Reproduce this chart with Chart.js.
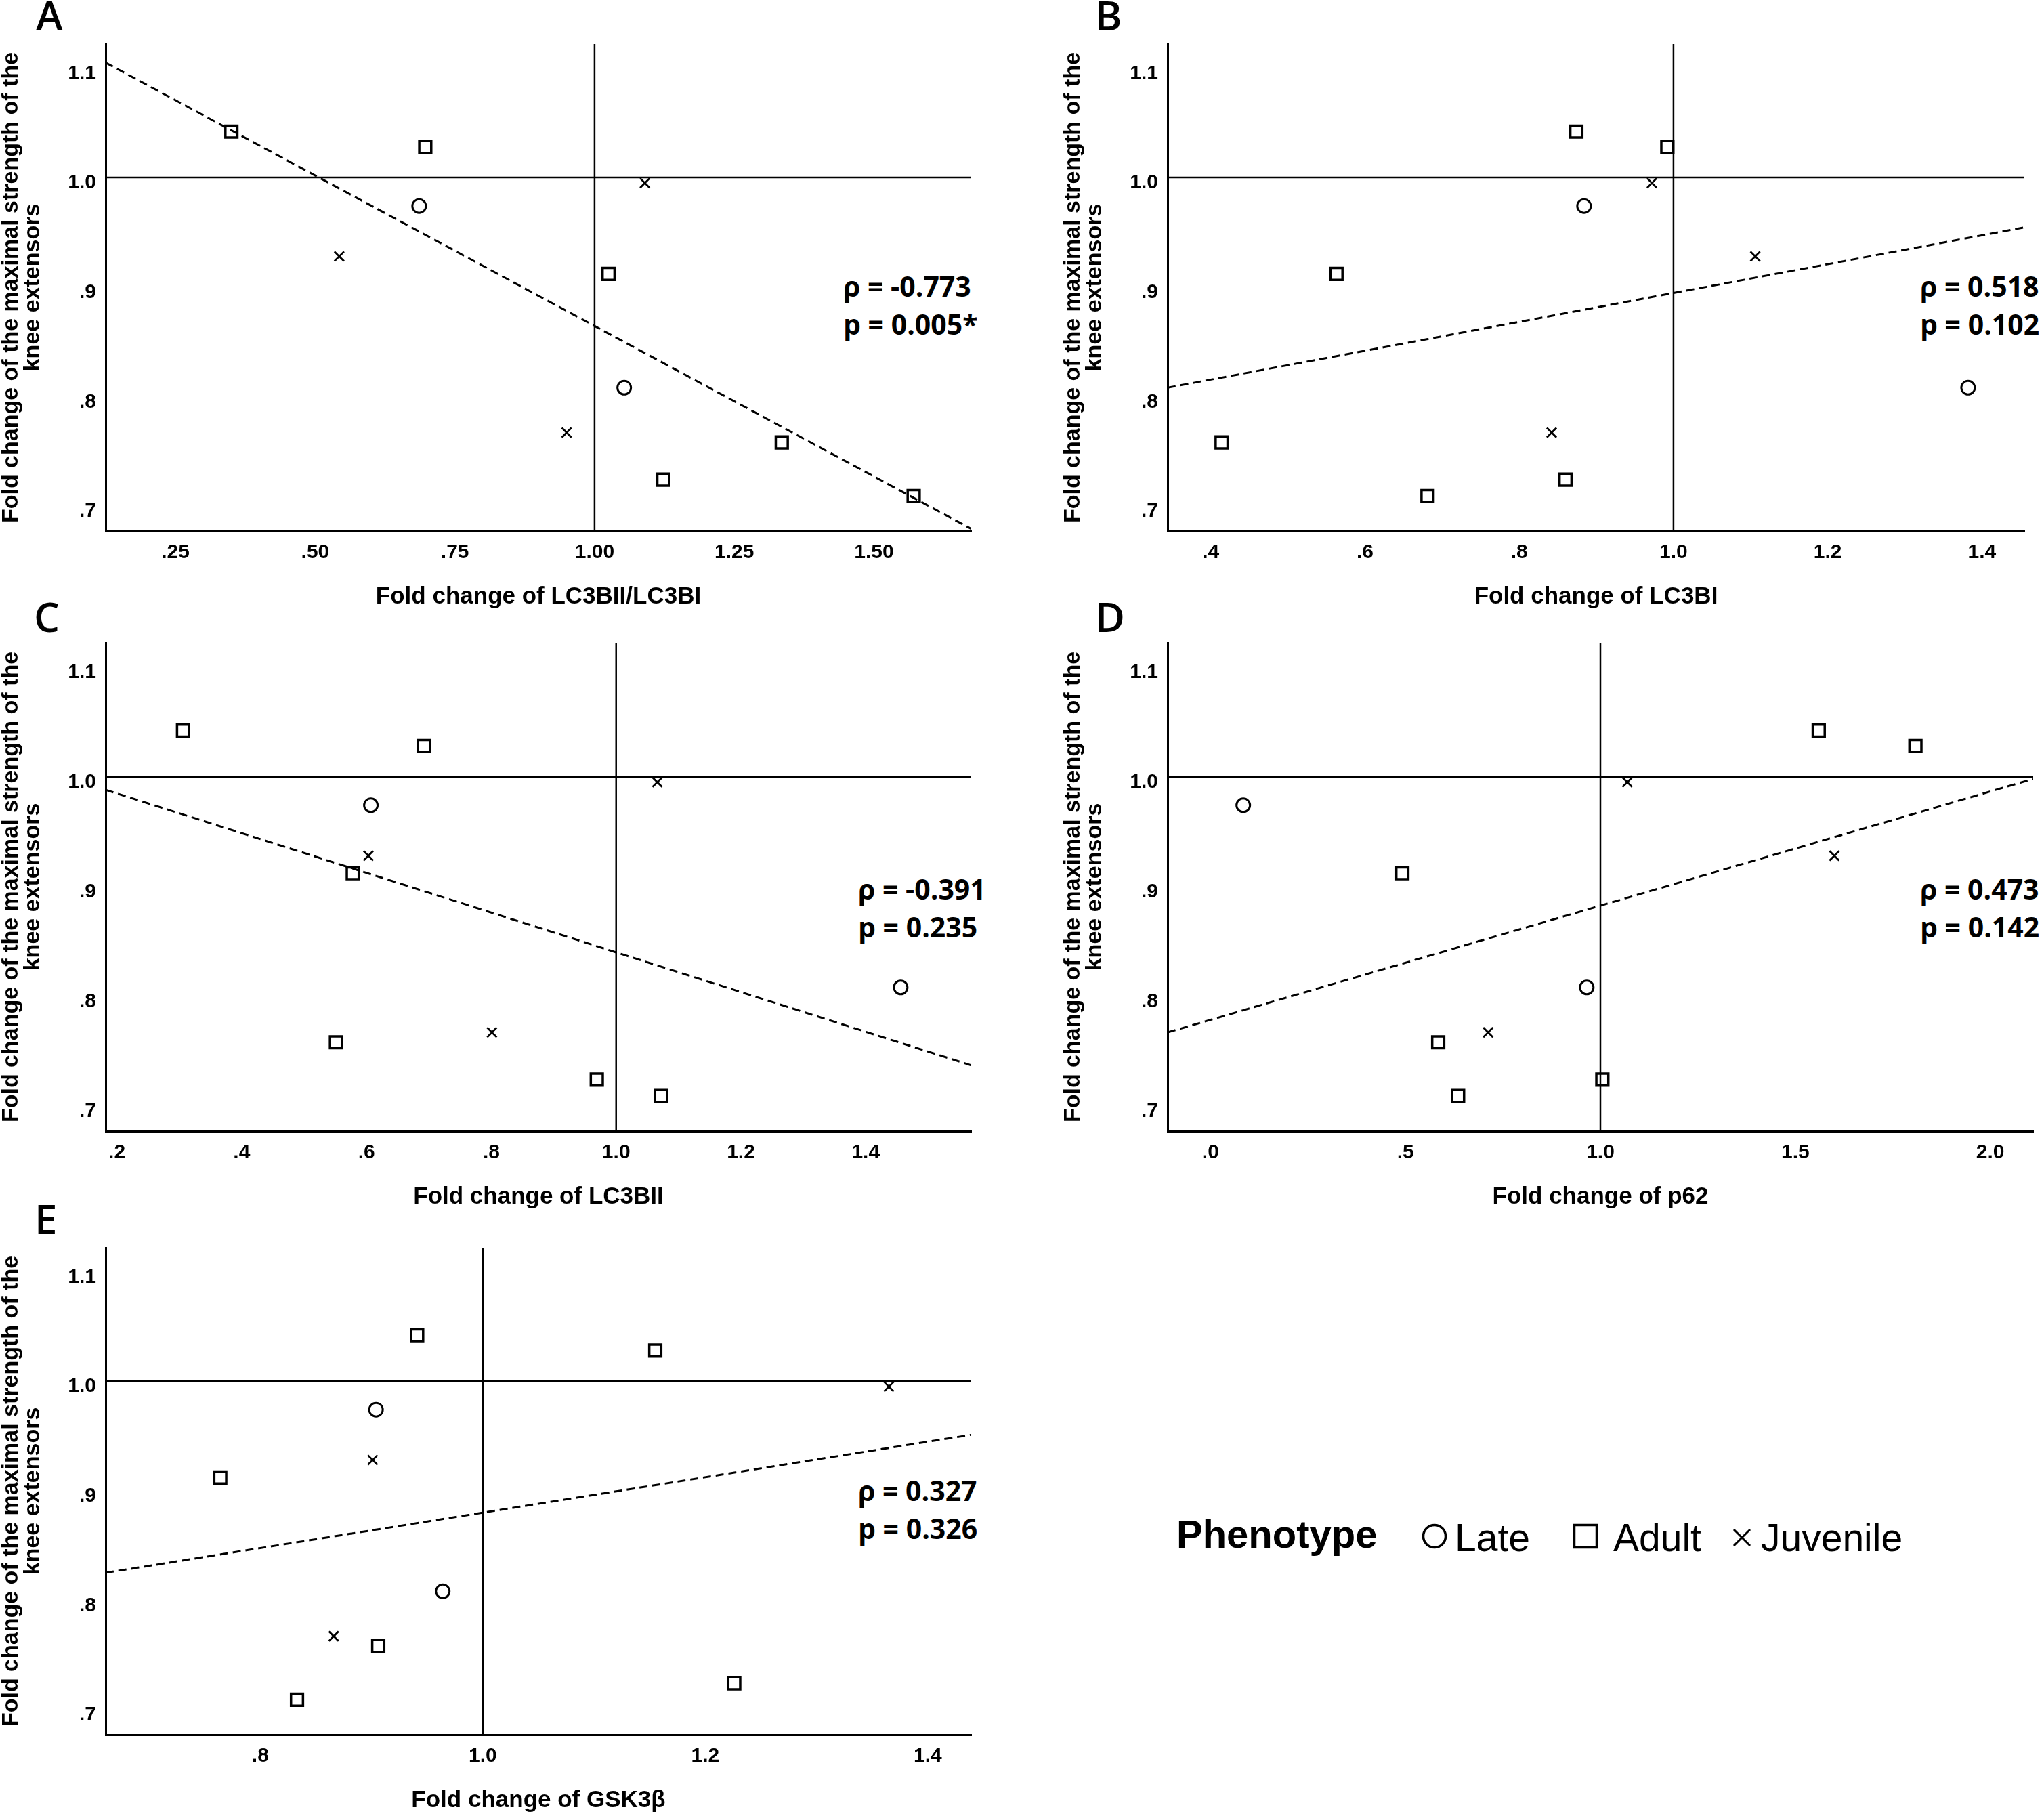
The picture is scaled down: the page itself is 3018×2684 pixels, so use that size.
<!DOCTYPE html>
<html>
<head>
<meta charset="utf-8">
<script src="https://cdn.jsdelivr.net/npm/chart.js@4/dist/chart.umd.min.js"></script>
<style>
  html, body { margin:0; padding:0; background:#fff; }
  body { width:3018px; height:2684px; position:relative; overflow:hidden; font-family:"Liberation Sans", Arial, sans-serif; color:#000; }
  canvas { position:absolute; }
  .letter { position:absolute; font-family:"Open Sans"; font-weight:600; font-size:60px; line-height:60px; }
  .stat { position:absolute; font-family:"Open Sans"; font-weight:700; font-size:41px; line-height:56px; white-space:pre; }
  .leg { position:absolute; white-space:nowrap; }
  svg { position:absolute; }
</style>
</head>
<body>
<div class="letter" style="left:53px;top:-8px">A</div>
<div class="letter" style="left:1617px;top:-8px">B</div>
<div class="letter" style="left:50px;top:880px">C</div>
<div class="letter" style="left:1617px;top:880px">D</div>
<div class="letter" style="left:51px;top:1769px">E</div>

<div class="stat" style="left:1245px;top:394px">ρ = -0.773
p = 0.005*</div>
<div class="stat" style="left:2835px;top:394px">ρ = 0.518
p = 0.102</div>
<div class="stat" style="left:1267px;top:1284px">ρ = -0.391
p = 0.235</div>
<div class="stat" style="left:2835px;top:1284px">ρ = 0.473
p = 0.142</div>
<div class="stat" style="left:1267px;top:2172px">ρ = 0.327
p = 0.326</div>

<div class="leg" style="left:1737px;top:2236px;font-weight:bold;font-size:58px;line-height:58px">Phenotype</div>
<svg style="left:2098px;top:2248px" width="40" height="40"><circle cx="20" cy="20" r="16.5" fill="none" stroke="#000" stroke-width="3.5"/></svg>
<div class="leg" style="left:2148px;top:2242px;font-size:57px;line-height:57px">Late</div>
<svg style="left:2321px;top:2248px" width="40" height="40"><rect x="3.5" y="3.5" width="33" height="33" fill="none" stroke="#000" stroke-width="3.5"/></svg>
<div class="leg" style="left:2382px;top:2242px;font-size:57px;line-height:57px">Adult</div>
<svg style="left:2557px;top:2255px" width="30" height="30"><path d="M3 3 L27 27 M27 3 L3 27" stroke="#000" stroke-width="3"/></svg>
<div class="leg" style="left:2600px;top:2242px;font-size:57px;line-height:57px">Juvenile</div>

<script>
// y: fold change of the maximal strength of the knee extensors (same subjects in all panels)
const lateY = [0.974, 0.808];
const adultY = [1.042, 1.028, 0.912, 0.758, 0.724, 0.709];
const juvenileY = [0.995, 0.928, 0.767];

const yRange = [0.677, 1.122];
const yTicks = [0.7, 0.8, 0.9, 1.0, 1.1];
const yTickLabels = [".7", ".8", ".9", "1.0", "1.1"];
const yTitle = ["Fold change of the maximal strength of the", "knee extensors"];

// A - LC3BII/LC3BI
const lateA = [0.686, 1.053];
const adultA = [0.350, 0.697, 1.025, 1.335, 1.123, 1.571];
const juvenileA = [1.090, 0.543, 0.950];
const fitA = [[0.125, 1.105], [1.674, 0.679]];
const xRangeA = [0.125, 1.674];
const xTicksA = [0.25, 0.5, 0.75, 1.0, 1.25, 1.5];
const xTickLabelsA = [".25", ".50", ".75", "1.00", "1.25", "1.50"];

// B - LC3BI
const lateB = [0.884, 1.382];
const adultB = [0.874, 0.992, 0.563, 0.414, 0.860, 0.681];
const juvenileB = [0.972, 1.106, 0.842];
const fitB = [[0.344, 0.808], [1.455, 0.9545]];
const xRangeB = [0.344, 1.455];
const xTicksB = [0.4, 0.6, 0.8, 1.0, 1.2, 1.4];
const xTickLabelsB = [".4", ".6", ".8", "1.0", "1.2", "1.4"];

// C - LC3BII
const lateC = [0.607, 1.456];
const adultC = [0.306, 0.692, 0.578, 0.551, 0.969, 1.072];
const juvenileC = [1.066, 0.603, 0.801];
const fitC = [[0.182, 0.988], [1.569, 0.737]];
const xRangeC = [0.182, 1.569];
const xTicksC = [0.2, 0.4, 0.6, 0.8, 1.0, 1.2, 1.4];
const xTickLabelsC = [".2", ".4", ".6", ".8", "1.0", "1.2", "1.4"];

// D - p62
const lateD = [0.084, 0.965];
const adultD = [1.560, 1.808, 0.492, 0.584, 1.005, 0.635];
const juvenileD = [1.069, 1.600, 0.712];
const fitD = [[-0.110, 0.767], [2.110, 0.998]];
const xRangeD = [-0.110, 2.110];
const xTicksD = [0, 0.5, 1.0, 1.5, 2.0];
const xTickLabelsD = [".0", ".5", "1.0", "1.5", "2.0"];

// E - GSK3beta
const lateE = [0.904, 0.964];
const adultE = [0.941, 1.155, 0.764, 0.906, 1.226, 0.833];
const juvenileE = [1.365, 0.901, 0.866];
const fitE = [[0.661, 0.825], [1.439, 0.951]];
const xRangeE = [0.661, 1.439];
const xTicksE = [0.8, 1.0, 1.2, 1.4];
const xTickLabelsE = [".8", "1.0", "1.2", "1.4"];

const panels = [
  { left:0,    top:0,    w:1450, h:929, xTitle:"Fold change of LC3BII/LC3BI", late:lateA, adult:adultA, juv:juvenileA, fit:fitA, xRange:xRangeA, xTicks:xTicksA, xLabels:xTickLabelsA },
  { left:1568, top:0,    w:1437, h:929, xTitle:"Fold change of LC3BI",        late:lateB, adult:adultB, juv:juvenileB, fit:fitB, xRange:xRangeB, xTicks:xTicksB, xLabels:xTickLabelsB },
  { left:0,    top:884,  w:1450, h:931, xTitle:"Fold change of LC3BII",       late:lateC, adult:adultC, juv:juvenileC, fit:fitC, xRange:xRangeC, xTicks:xTicksC, xLabels:xTickLabelsC },
  { left:1568, top:884,  w:1450, h:931, xTitle:"Fold change of p62",          late:lateD, adult:adultD, juv:juvenileD, fit:fitD, xRange:xRangeD, xTicks:xTicksD, xLabels:xTickLabelsD },
  { left:0,    top:1777, w:1450, h:929, xTitle:"Fold change of GSK3β",        late:lateE, adult:adultE, juv:juvenileE, fit:fitE, xRange:xRangeE, xTicks:xTicksE, xLabels:xTickLabelsE }
];

Chart.defaults.font.family = "'Liberation Sans', Arial, sans-serif";
Chart.defaults.color = "#000";

const pts = (xs, ys) => xs.map((x, i) => ({ x, y: ys[i] }));

function lineSet(data, dash, width){
  return { data, showLine:true, borderColor:"#000", borderWidth:width || 2.5, borderDash:dash || [], pointRadius:0, pointHoverRadius:0 };
}
function markSet(label, data, style, r, bw){
  return { label, data, pointStyle:style, pointRadius:r, pointHoverRadius:r,
           pointBorderColor:"#000", pointBackgroundColor:"rgba(0,0,0,0)", pointBorderWidth:bw, showLine:false };
}

function makePanel(p){
  const cv = document.createElement("canvas");
  cv.width = p.w; cv.height = p.h;
  cv.style.left = p.left + "px";
  cv.style.top = p.top + "px";
  document.body.appendChild(cv);

  const [x0, x1] = p.xRange;
  const [y0, y1] = yRange;

  new Chart(cv, {
    type: "scatter",
    data: {
      datasets: [
        lineSet([{x:x0, y:1}, {x:x1, y:1}]),
        lineSet([{x:1, y:y0}, {x:1, y:y1}]),
        lineSet(p.fit.map(([x, y]) => ({x, y})), [12, 7], 3),
        markSet("Late", pts(p.late, lateY), "circle", 10, 3),
        markSet("Adult", pts(p.adult, adultY), "rect", 12.5, 3.5),
        markSet("Juvenile", pts(p.juv, juvenileY), "crossRot", 10, 2.8)
      ]
    },
    options: {
      responsive: false,
      animation: false,
      events: [],
      layout: { padding: { top:65, right:16, left:0, bottom:0 } },
      plugins: { legend: { display:false }, tooltip: { enabled:false } },
      scales: {
        x: {
          type: "linear", min: x0, max: x1,
          afterBuildTicks: s => { s.ticks = p.xTicks.map(v => ({ value: v })); },
          afterFit: s => { s.height = 145; s.paddingLeft = 0; s.paddingRight = 0; },
          ticks: { autoSkip:false, maxRotation:0, padding:14, font:{ size:30, weight:"bold" }, callback:(v, i) => p.xLabels[i] },
          grid: { display:false, drawTicks:false },
          border: { display:true, color:"#000", width:3 },
          title: { display:true, text:p.xTitle, font:{ size:35, weight:"bold" }, padding:{ top:0, bottom:27 } }
        },
        y: {
          type: "linear", min: y0, max: y1,
          afterBuildTicks: s => { s.ticks = yTicks.map(v => ({ value: v })); },
          afterFit: s => { s.width = 156; s.paddingTop = 0; s.paddingBottom = 0; },
          ticks: { autoSkip:false, padding:14, labelOffset:8, font:{ size:30, weight:"bold" }, callback:(v, i) => yTickLabels[i] },
          grid: { display:false, drawTicks:false },
          border: { display:true, color:"#000", width:3 },
          title: { display:true, text:yTitle, font:{ size:34, weight:"bold", lineHeight:0.93 }, padding:{ top:1, bottom:0 } }
        }
      }
    }
  });
}

panels.forEach(makePanel);
</script>
</body>
</html>
